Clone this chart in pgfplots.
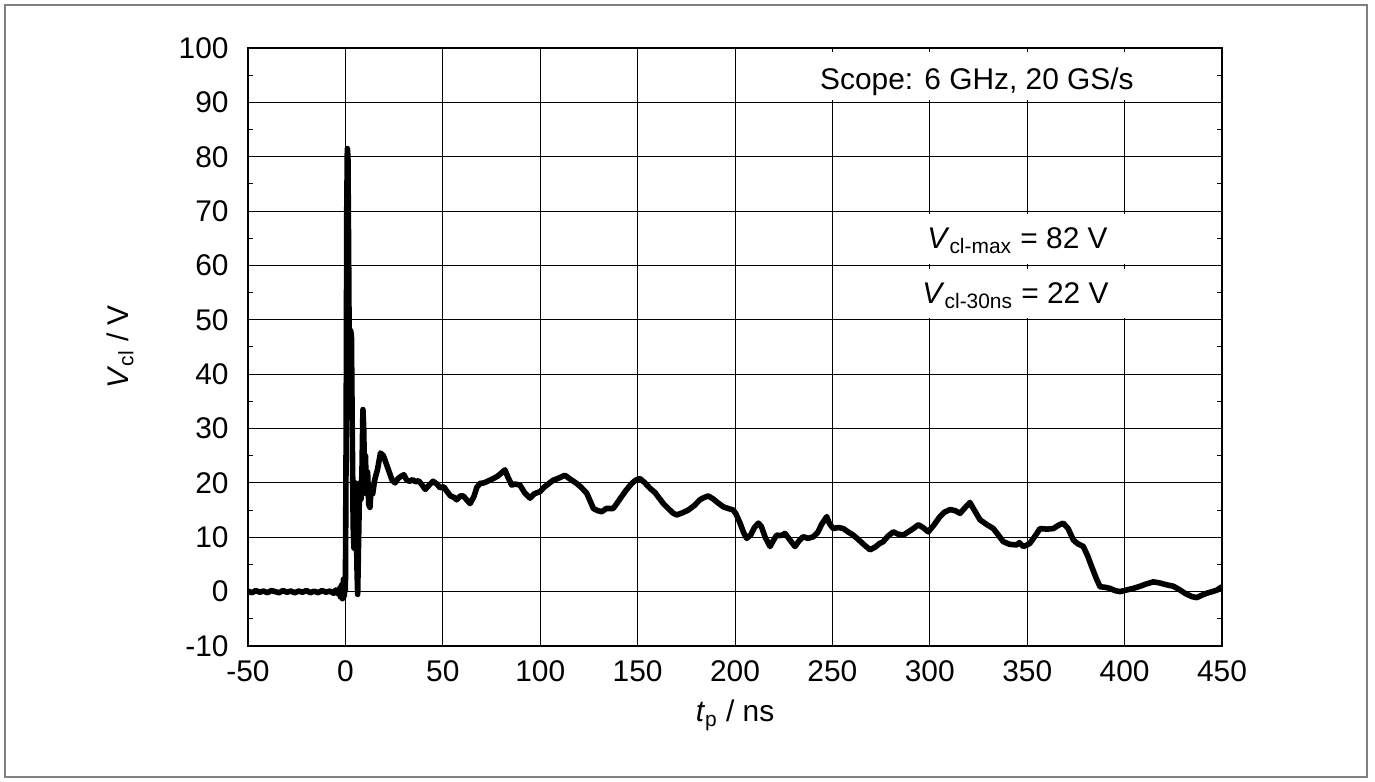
\documentclass[border=0pt]{standalone}
\usepackage{fontspec}
\setmainfont{Liberation Sans}
\usepackage{pgfplots}
\usepackage{pgfplotstable}
\pgfplotsset{compat=1.18}
\pgfplotstableread{
t V
-50 0.1
-48 -0.2
-46 0.2
-44 -0.1
-42 0.1
-40 -0.2
-38 0.2
-36 0.0
-34 -0.2
-32 0.2
-30 -0.1
-28 0.1
-26 -0.2
-24 0.1
-22 -0.1
-20 0.2
-18 -0.2
-16 0.1
-14 -0.2
-12 0.2
-10 -0.1
-8 0.1
-6 -0.3
-5 0.3
-4 -0.4
-3 0.6
-2.5 -1.0
-2 1.2
-1.5 -1.3
-1.0 2.3
-0.6 -0.8
-0.3 0.9
0.0 0.2
0.4 30
0.7 70
1.0 81.5
1.3 80
1.6 65
1.9 48
2.3 44
2.7 48
3.1 47
3.5 30
4.0 12
4.4 8
4.8 10
5.1 20
5.5 18
5.9 5
6.3 -0.5
6.7 8
7.1 16
7.5 20
8.0 17
8.5 22
9.0 33.5
9.4 30
9.8 22
10.3 25
10.8 18
11.4 22
12.0 16
12.6 15.5
13.2 19
14.0 18
15.0 20.5
16.5 22.5
18.0 25.5
19.5 25
21.0 23.5
22.5 22
24.0 20.5
25.5 20
27.0 20.8
28.5 21.2
30.0 21.5
31.5 20.5
33.0 20.3
34.5 20.6
36.0 20.2
37.5 20.4
39.0 19.8
41.0 18.8
43.0 19.6
45.0 20.3
47.0 19.8
48.6 19.1
50.5 19.3
52 18.5
54 17.6
56 17.3
57.1 16.9
59 17.6
60.5 17.6
62 17
64 16.2
66 17.5
67.5 19.2
69.1 19.9
71 20
73 20.3
75.9 20.8
78 21.2
80 21.8
81.9 22.4
83.5 21
85.4 19.6
87 19.8
89.6 19.6
92 18.2
94.8 17.2
97 18.0
99.9 18.4
102 19.2
104.5 19.9
106.7 20.5
109 20.8
112.7 21.4
115 20.8
118.7 19.9
121 19.2
123.9 18.1
125.5 16.8
127.3 15.3
129.5 14.9
131.6 14.7
134 15.3
137.5 15.3
139.5 16.3
141.8 17.5
144 18.6
147 19.9
149 20.5
151.2 20.8
153.5 20.1
156.4 19.0
159 18.2
163.2 16.2
166 15.2
168 14.5
170 14.1
173 14.5
176 15.0
179 15.8
182 16.9
184 17.3
186.3 17.6
189 17
191 16.4
194 15.6
196.5 15.3
199.1 15.0
200.5 14.3
202.6 12.6
204.5 10.8
206 9.8
208 10.4
210 11.8
212 12.6
213.5 12
215.5 10
218 8.3
220 9.6
221.4 10.4
223.5 10.3
225.7 10.7
228 9.6
230.8 8.3
233 9.4
235 10.1
237.5 9.8
240.2 10.1
242.5 10.9
244.5 12.4
247.1 13.8
248.5 12.5
250.5 11.6
253 11.8
255.6 11.6
258 11.0
260.7 10.4
263 9.7
266 8.7
269.3 7.7
272 8.2
274 8.8
276.1 9.2
278.5 10.2
281.3 11.0
283.5 10.6
286.4 10.4
289 11.0
291.5 11.6
294.1 12.3
296.5 11.8
299.2 11.0
302 12.2
305.2 13.8
307.5 14.6
310.4 15.1
313 14.9
315.5 14.4
318 15.4
320.6 16.4
322.5 15.2
325.8 13.2
329 12.4
332.6 11.6
335 10.5
337.7 9.2
341 8.7
344.6 8.6
346 9
348 8.3
350 8.6
351.4 8.9
354 10.2
356.6 11.6
360 11.5
363.4 11.6
366 12.2
368.5 12.6
371 11.6
373.7 9.5
376 8.8
378.8 8.3
381 6.6
383.1 4.6
385.5 2.4
387.4 0.9
390 0.8
392.5 0.6
395 0.2
397.6 0.0
401 0.3
404.5 0.6
408 1.0
411 1.4
414.7 1.8
418 1.6
421 1.3
425 1.0
428 0.4
431 -0.3
434.4 -0.9
437 -1.1
440 -0.6
442.1 -0.3
445 0.0
447.5 0.3
450 0.9
}\trace
\begin{document}
\fontsize{15}{18}\selectfont
\begin{tikzpicture}
\useasboundingbox (-124bp,-68bp) rectangle (563.5bp,323bp);
\draw[line width=0.6bp, color=gray] (-121.5bp,-65.5bp) rectangle (559.5bp,320.5bp);
\begin{axis}[at={(0,0)}, anchor=south west, scale only axis,
  width=487bp, height=299bp,
  xmin=-50, xmax=450, ymin=-10, ymax=100,
  xtick={-50,0,50,100,150,200,250,300,350,400,450},
  xticklabels={-50,0,50,100,150,200,250,300,350,400,450},
  ytick={-10,0,10,20,30,40,50,60,70,80,90,100},
  yticklabels={-10,0,10,20,30,40,50,60,70,80,90,100},
  minor y tick num=1,
  grid=major, major grid style={black, line width=0.5bp},
  tick align=inside, major tick length=2.5bp, minor tick length=2.5bp,
  every tick/.style={black, line width=0.5bp},
  axis line style={black, line width=1bp},
  xticklabel style={font=\fontsize{15}{18}\selectfont, anchor=north, inner sep=0pt, yshift=-7bp},
  yticklabel style={font=\fontsize{15}{18}\selectfont, anchor=east, inner sep=0pt, xshift=-9.5bp},
  xlabel={\textit{t}\textsubscript{p} / ns},
  ylabel={\textit{V}\textsubscript{cl} / V},
  xlabel style={font=\fontsize{15}{18}\selectfont, at={(axis description cs:0.5,-0.127)}, anchor=base, inner sep=0pt},
  ylabel style={font=\fontsize{15}{18}\selectfont, at={(axis description cs:-0.1232,0.5)}, anchor=base, inner sep=0pt},
]
\fill[white] (axis cs:235,90.4) rectangle (axis cs:447,99.2);
\fill[white] (axis cs:287,60.3) rectangle (axis cs:447,69.4);
\fill[white] (axis cs:287,50.3) rectangle (axis cs:447,59.4);
\node[font=\fontsize{15}{18}\selectfont] at (axis cs:324.2,93.7) {Scope: 6 GHz, 20 GS/s};
\node[font=\fontsize{15}{18}\selectfont] at (axis cs:345,64.5) {\textit{V}\textsubscript{cl-max} = 82 V};
\node[font=\fontsize{15}{18}\selectfont] at (axis cs:344,54.4) {\textit{V}\textsubscript{cl-30ns} = 22 V};
\addplot[black, line width=2.8bp, line join=round, mark=none] table[x=t, y=V] {\trace};
\end{axis}
\end{tikzpicture}
\end{document}
